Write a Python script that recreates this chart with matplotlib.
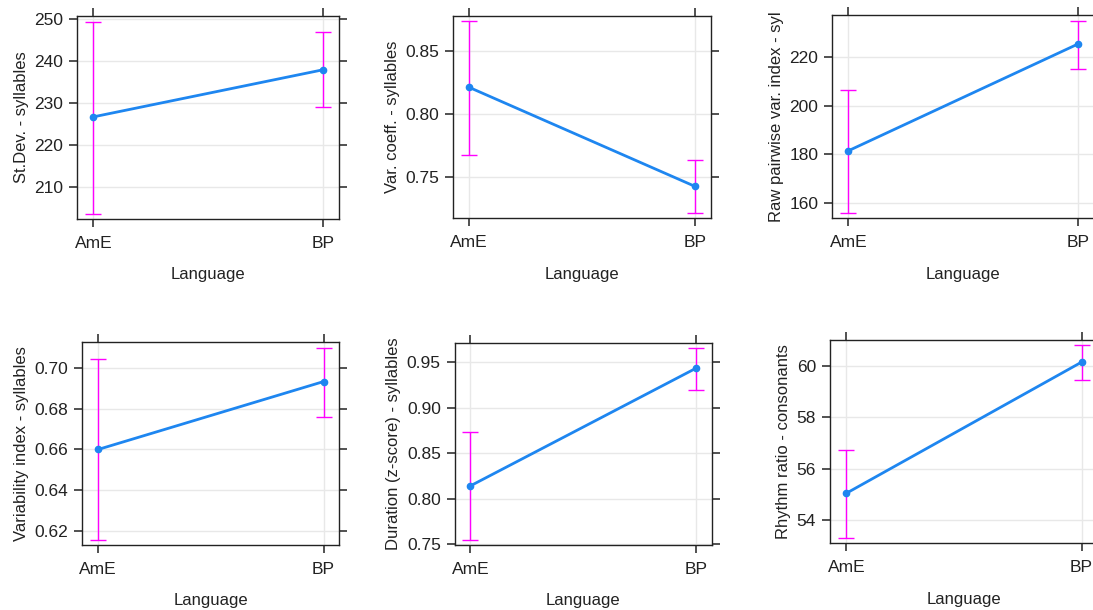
import matplotlib
matplotlib.use("Agg")
import matplotlib.pyplot as plt

plt.rcParams["font.family"] = ["Liberation Sans", "DejaVu Sans"]

languages = ["AmE", "BP"]

# effect estimates with lower / upper confidence limits, one panel each
sd_syl = [226.7, 237.9]
sd_syl_lo = [203.6, 229.0]
sd_syl_hi = [249.3, 246.8]

varco_syl = [0.821, 0.7426]
varco_syl_lo = [0.7673, 0.7215]
varco_syl_hi = [0.8737, 0.7634]

rpvi_syl = [181.5, 225.1]
rpvi_syl_lo = [155.9, 214.8]
rpvi_syl_hi = [206.4, 234.6]

vi_syl = [0.660, 0.6932]
vi_syl_lo = [0.6157, 0.6759]
vi_syl_hi = [0.7041, 0.7098]

zdur_syl = [0.8143, 0.9434]
zdur_syl_lo = [0.7547, 0.9199]
zdur_syl_hi = [0.8738, 0.9657]

rr_cons = [55.04, 60.14]
rr_cons_lo = [53.29, 59.43]
rr_cons_hi = [56.74, 60.79]

W, H = 1093, 610

# (label, values, lower, upper, yticks, ylim, frame left/top/right/bottom in px)
panels = [
    ("St.Dev. - syllables", sd_syl, sd_syl_lo, sd_syl_hi,
     [210, 220, 230, 240, 250], (202.4, 250.7), (77.3, 16, 339, 219)),
    ("Var. coeff. - syllables", varco_syl, varco_syl_lo, varco_syl_hi,
     [0.75, 0.80, 0.85], (0.7173, 0.8777), (453.3, 15.7, 710.7, 218.3)),
    ("Raw pairwise var. index - syl", rpvi_syl, rpvi_syl_lo, rpvi_syl_hi,
     [160, 180, 200, 220], (153.9, 237.0), (832.3, 15, 1093.8, 218.3)),
    ("Variability index - syllables", vi_syl, vi_syl_lo, vi_syl_hi,
     [0.62, 0.64, 0.66, 0.68, 0.70], (0.6133, 0.7124), (82.3, 342.3, 339.3, 545)),
    ("Duration (z-score) - syllables", zdur_syl, zdur_syl_lo, zdur_syl_hi,
     [0.75, 0.80, 0.85, 0.90, 0.95], (0.7493, 0.9715), (454.7, 342.7, 711.7, 545)),
    ("Rhythm ratio - consonants", rr_cons, rr_cons_lo, rr_cons_hi,
     [54, 56, 58, 60], (53.09, 60.99), (830, 340.3, 1098, 543.3)),
]

fig = plt.figure(figsize=(W / 100, H / 100), dpi=100)
fig.patch.set_facecolor("white")

x = [0, 1]
for label, mean, lo, hi, yt, ylim, (l, t, r, b) in panels:
    ax = fig.add_axes([l / W, 1 - b / H, (r - l) / W, (b - t) / H])
    yerr = [[m - a for m, a in zip(mean, lo)], [c - m for m, c in zip(mean, hi)]]
    ax.errorbar(x, mean, yerr=yerr, fmt="none", ecolor="#ff00ff", elinewidth=1,
                capsize=6, capthick=1, zorder=3)
    ax.plot(x, mean, color="#1e86f0", lw=2, marker="o", ms=4.5,
            mfc="#1e86f0", mec="#1e86f0", zorder=4)
    ax.set_xlim(-0.07, 1.07)
    ax.set_ylim(*ylim)
    ax.set_xticks(x)
    ax.set_xticklabels(languages)
    ax.set_yticks(yt)
    if isinstance(yt[0], float):
        ax.set_yticklabels([f"{v:.2f}" for v in yt])
    ax.grid(True, color="#e8e8e8", lw=1)
    ax.set_axisbelow(True)
    ax.tick_params(axis="both", direction="out", length=6, width=1.2, color="#333333",
                   labelsize=12.5, labelcolor="#222222", top=True, right=True, pad=4)
    ax.tick_params(axis="x", pad=6)
    for s in ax.spines.values():
        s.set_color("#222222")
        s.set_linewidth(1)
    ax.set_xlabel("Language", fontsize=12, color="#222222", labelpad=12)
    ax.set_ylabel(label, fontsize=12, color="#222222", labelpad=4)

fig.savefig("out.png", dpi=100)
